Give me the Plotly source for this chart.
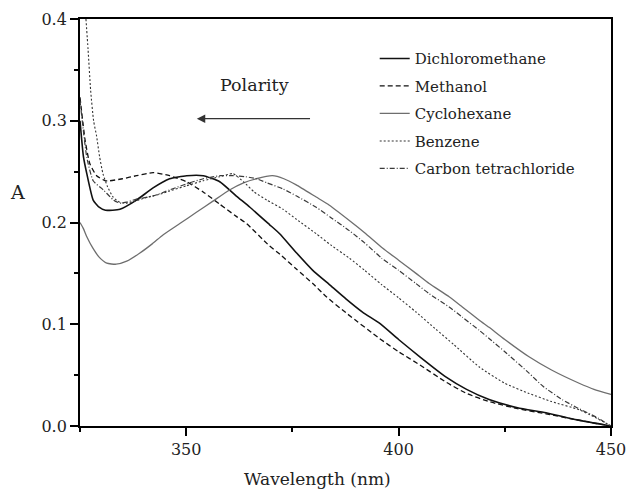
import plotly.graph_objects as go

FONT = "DejaVu Serif"

# ---------------- data ----------------
wl_dcm = [325.0, 325.8, 326.6, 328.1, 329.5, 331.0, 334.4, 338.3, 342.2, 346.1, 350.1, 354.0,
          357.9, 361.8, 365.0, 369.6, 372.0, 376.0, 379.8, 384.0, 387.6, 391.5, 395.5, 400.0,
          405.0, 411.2, 416.0, 421.3, 428.0, 434.7, 442.0, 450.0]
a_dcm = [0.300, 0.265, 0.248, 0.222, 0.215, 0.212, 0.213, 0.222, 0.234, 0.243, 0.246, 0.246,
         0.240, 0.226, 0.215, 0.198, 0.189, 0.170, 0.153, 0.138, 0.125, 0.112, 0.101, 0.085,
         0.068, 0.048, 0.036, 0.026, 0.018, 0.013, 0.006, 0.000]

wl_meoh = [325.0, 326.2, 327.3, 328.9, 331.0, 332.0, 335.0, 338.3, 342.2, 346.1, 350.1, 354.0,
           357.9, 361.8, 364.2, 369.6, 372.0, 376.0, 379.8, 383.0, 388.0, 395.5, 400.0, 405.0,
           411.2, 416.0, 421.3, 428.0, 434.7, 442.0, 450.0]
a_meoh = [0.323, 0.281, 0.258, 0.246, 0.241, 0.241, 0.243, 0.246, 0.249, 0.246, 0.240, 0.230,
          0.218, 0.206, 0.199, 0.177, 0.169, 0.154, 0.140, 0.127, 0.110, 0.086, 0.073, 0.060,
          0.043, 0.032, 0.024, 0.017, 0.012, 0.006, 0.000]

wl_chex = [325.0, 325.8, 326.6, 328.0, 329.5, 331.3, 333.5, 336.0, 339.1, 342.0, 344.6, 348.5,
           352.4, 356.3, 360.2, 363.5, 366.5, 370.3, 373.0, 375.9, 380.6, 383.7, 388.4, 392.0,
           396.2, 400.0, 404.1, 407.2, 411.9, 415.0, 419.0, 421.3, 425.0, 430.7, 436.0, 442.5,
           446.0, 450.0]
a_chex = [0.200, 0.194, 0.186, 0.175, 0.166, 0.160, 0.159, 0.162, 0.170, 0.179, 0.188, 0.199,
          0.210, 0.221, 0.232, 0.239, 0.243, 0.246, 0.243, 0.237, 0.225, 0.217, 0.202, 0.190,
          0.175, 0.163, 0.150, 0.140, 0.127, 0.117, 0.104, 0.097, 0.085, 0.068, 0.055, 0.042,
          0.036, 0.031]

wl_benz = [326.4, 326.9, 327.5, 328.2, 328.9, 329.6, 330.4, 331.5, 332.8, 334.3, 336.0, 338.0,
           341.0, 344.0, 346.1, 350.0, 354.0, 357.9, 361.0, 363.5, 366.0, 369.0, 372.8, 376.0,
           380.6, 384.0, 388.4, 392.0, 396.0, 400.0, 404.1, 408.8, 413.0, 419.0, 425.0, 430.7,
           436.0, 442.5, 446.0, 450.0]
a_benz = [0.400, 0.370, 0.330, 0.300, 0.285, 0.265, 0.248, 0.235, 0.225, 0.220, 0.219, 0.221,
          0.225, 0.228, 0.231, 0.236, 0.241, 0.245, 0.248, 0.240, 0.230, 0.222, 0.213, 0.203,
          0.189, 0.178, 0.165, 0.153, 0.139, 0.126, 0.112, 0.095, 0.080, 0.058, 0.042, 0.032,
          0.024, 0.016, 0.009, 0.000]

wl_ccl4 = [325.0, 326.6, 328.1, 330.5, 332.9, 334.4, 336.0, 338.3, 342.2, 346.1, 350.1, 354.0,
           357.9, 361.0, 364.0, 366.5, 369.0, 372.8, 376.0, 380.6, 384.0, 388.4, 392.0, 396.0,
           400.0, 404.1, 407.2, 411.9, 415.0, 419.0, 421.3, 425.0, 430.7, 434.0, 438.5, 442.0,
           446.4, 450.0]
a_ccl4 = [0.320, 0.264, 0.241, 0.232, 0.222, 0.219, 0.220, 0.223, 0.226, 0.232, 0.238, 0.243,
          0.246, 0.246, 0.245, 0.243, 0.239, 0.233, 0.226, 0.215, 0.205, 0.192, 0.180, 0.165,
          0.153, 0.140, 0.130, 0.117, 0.107, 0.094, 0.086, 0.073, 0.052, 0.039, 0.026, 0.018,
          0.009, 0.000]

series_names = ["Dichloromethane", "Methanol", "Cyclohexane", "Benzene", "Carbon tetrachloride"]
series_x = [wl_dcm, wl_meoh, wl_chex, wl_benz, wl_ccl4]
series_y = [a_dcm, a_meoh, a_chex, a_benz, a_ccl4]
series_style = [
    dict(color="#111111", width=1.6, dash="solid"),
    dict(color="#111111", width=1.3, dash="5px,3px"),
    dict(color="#6e6e6e", width=1.3, dash="solid"),
    dict(color="#333333", width=1.1, dash="2px,2px"),
    dict(color="#3a3a3a", width=1.2, dash="5px,2px,1px,2px"),
]

x_ticks = [350, 400, 450]
y_ticks = [0.0, 0.1, 0.2, 0.3, 0.4]

fig = go.Figure()
for i, (name, xs, ys, st) in enumerate(zip(series_names, series_x, series_y, series_style)):
    fig.add_trace(go.Scatter(x=xs, y=ys, mode="lines", name=name, legendgroup=f"g{i}",
                             line=dict(shape="spline", smoothing=0.5, **st)))

axis_common = dict(showline=True, linecolor="black", linewidth=1.8, mirror=True,
                   showgrid=False, zeroline=False, ticks="outside", ticklen=8,
                   tickwidth=1.5, tickcolor="black", automargin=False,
                   ticklabeloverflow="allow",
                   tickfont=dict(family=FONT, size=16, color="#222"))

fig.update_xaxes(range=[325, 450], tickvals=x_ticks,
                 minor=dict(dtick=25, tick0=350, ticks="outside", ticklen=4,
                            tickwidth=1.5, tickcolor="black"),
                 **axis_common)
fig.update_yaxes(range=[0, 0.4], tickvals=y_ticks, tickformat=".1f",
                 minor=dict(dtick=0.05, tick0=0, ticks="outside", ticklen=4,
                            tickwidth=1.5, tickcolor="black"),
                 **axis_common)

fig.add_annotation(text="Wavelength (nm)", xref="paper", yref="paper", x=0.447, y=-0.130,
                   xanchor="center", yanchor="middle", showarrow=False,
                   font=dict(family=FONT, size=17, color="#222"))
fig.add_annotation(text="A", xref="paper", yref="paper", x=-0.117, y=0.575,
                   xanchor="center", yanchor="middle",
                   showarrow=False, font=dict(family=FONT, size=19, color="#222"))
fig.add_annotation(text="Polarity", xref="x", yref="y", x=366.0, y=0.335,
                   showarrow=False, font=dict(family=FONT, size=17.5, color="#222"))
fig.add_annotation(x=352.5, y=0.302, ax=379.5, ay=0.302, xref="x", yref="y",
                   axref="x", ayref="y", text="", showarrow=True, arrowhead=2,
                   arrowsize=1.3, arrowwidth=1.3, arrowcolor="#333")

fig.update_layout(
    width=627, height=492,
    margin=dict(l=80, r=16, t=19, b=66, autoexpand=False),
    paper_bgcolor="white", plot_bgcolor="white",
    showlegend=True,
    legend=dict(x=0.555, y=0.943, xanchor="left", yanchor="top",
                bgcolor="rgba(0,0,0,0)", font=dict(family=FONT, size=15, color="#222"),
                itemwidth=30, tracegroupgap=5),
)

fig.write_html("out.html")
